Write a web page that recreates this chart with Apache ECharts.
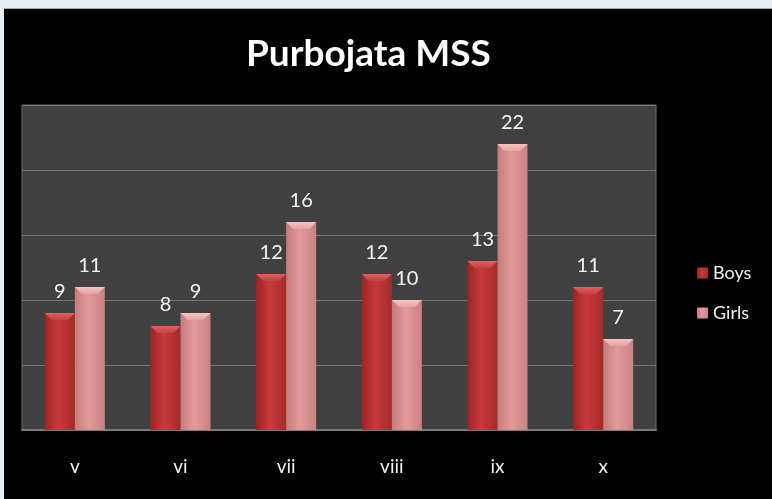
<!DOCTYPE html>
<html>
<head>
<meta charset="utf-8">
<script src="https://cdn.jsdelivr.net/npm/echarts@6/dist/echarts.min.js"></script>
<style>
html,body{margin:0;padding:0;background:#e9eef2;width:772px;height:499px;overflow:hidden;}
#panel{position:absolute;left:4px;top:8px;width:768px;height:491px;background:#000;border-top:1px solid #a8acae;box-sizing:border-box;}
#chart{width:768px;height:490px;}
</style>
</head>
<body>
<div id="panel"><div id="chart"></div></div>
<script>
var categories = ['v', 'vi', 'vii', 'viii', 'ix', 'x'];
var boys = [9, 8, 12, 12, 13, 11];
var girls = [11, 9, 16, 10, 22, 7];

var FONT = 'Lato, "Open Sans", sans-serif';
var BW = 30;
var chart = echarts.init(document.getElementById('chart'));
function grad(c1, c2, c3) {
  return new echarts.graphic.LinearGradient(0, 0, 1, 0, [
    {offset: 0, color: c1}, {offset: 0.45, color: c2}, {offset: 1, color: c3}
  ]);
}
var labelCfg = {show: true, position: 'top', distance: 11, color: '#f4f4f4', fontSize: 20, fontFamily: FONT};

function bevel(offsetSign, c1, c2) {
  return function (params, api) {
    var p = api.coord([api.value(0), api.value(1)]);
    var x0 = offsetSign < 0 ? p[0] - BW : p[0];
    var x1 = x0 + BW;
    var y0 = p[1];
    var d = 7;
    return {
      type: 'polygon',
      shape: {points: [[x0, y0], [x1, y0], [x1 - d, y0 + d], [x0 + d, y0 + d]]},
      style: {fill: new echarts.graphic.LinearGradient(0, 0, 0, 1, [
        {offset: 0, color: c1}, {offset: 1, color: c2}])}
    };
  };
}

chart.setOption({
  backgroundColor: '#000',
  animation: false,
  title: {
    text: 'Purbojata MSS', left: 237, top: 22,
    textStyle: {color: '#fff', fontSize: 37, fontWeight: 'bold', fontFamily: FONT}
  },
  legend: {
    orient: 'vertical', left: 688, top: 250, itemGap: 22,
    icon: 'rect', itemWidth: 11, itemHeight: 11,
    textStyle: {color: '#f0f0f0', fontSize: 18, fontFamily: FONT},
    data: ['Boys', 'Girls']
  },
  grid: {left: 18, top: 96, width: 634, height: 325, show: true, backgroundColor: '#404040', borderColor: '#6e6e6e', borderWidth: 1},
  xAxis: {
    type: 'category', data: categories,
    axisLine: {show: true, lineStyle: {color: '#7a7a7a', width: 2}},
    axisTick: {show: false},
    axisLabel: {color: '#f0f0f0', fontSize: 19, margin: 27, fontFamily: FONT}
  },
  yAxis: {
    type: 'value', min: 0, max: 25, interval: 5,
    axisLabel: {show: false}, axisLine: {show: false}, axisTick: {show: false},
    splitLine: {lineStyle: {color: '#767676', width: 1}}
  },
  series: [
    {name: 'Boys', type: 'bar', data: boys, barWidth: BW, barGap: '0%',
     itemStyle: {color: grad('#9c2424', '#c73a3a', '#a52a2a')}, label: labelCfg},
    {name: 'Girls', type: 'bar', data: girls, barWidth: BW,
     itemStyle: {color: grad('#c77a7a', '#e39a9a', '#c98282')}, label: labelCfg},
    {type: 'custom', silent: true, z: 3,
     data: boys.map(function (v, i) { return [i, v]; }),
     renderItem: bevel(-1, '#e06060', '#c94040')},
    {type: 'custom', silent: true, z: 3,
     data: girls.map(function (v, i) { return [i, v]; }),
     renderItem: bevel(1, '#f6c4c4', '#e6a2a2')}
  ]
});
</script>
</body>
</html>
